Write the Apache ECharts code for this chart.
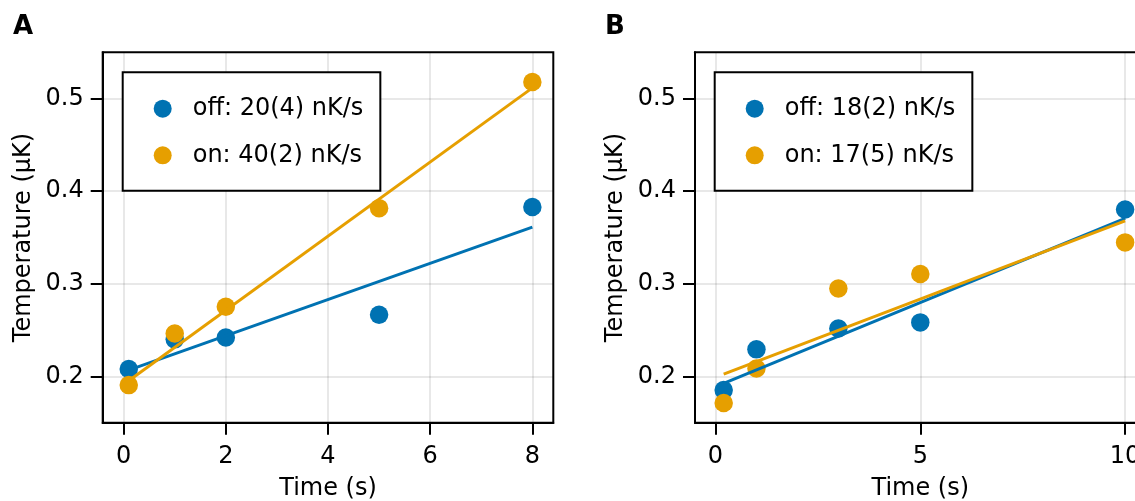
<!DOCTYPE html>
<html>
<head>
<meta charset="utf-8">
<script src="https://cdn.jsdelivr.net/npm/echarts@6/dist/echarts.min.js"></script>
<style>
  html, body { margin: 0; padding: 0; background: #fff; overflow: hidden; }
  #chart { width: 1135px; height: 501px; }
</style>
</head>
<body>
<div id="chart"></div>
<script>
// Panel A: heating with the beam off / on
const timesA = [0.1, 1, 2, 5, 8];
const offA = [0.208, 0.240, 0.242, 0.2665, 0.383];
const onA = [0.1906, 0.2464, 0.2752, 0.3817, 0.518];
const fitTimesA = [0.1, 8];
const fitOffA = [0.2068, 0.3612];
const fitOnA = [0.1953, 0.5116];
const namesA = ['off: 20(4) nK/s', 'on: 40(2) nK/s'];
const xTicksA = [0, 2, 4, 6, 8];

// Panel B
const timesB = [0.2, 1, 3, 5, 10];
const offB = [0.1852, 0.2292, 0.2518, 0.2583, 0.3803];
const onB = [0.1712, 0.2086, 0.295, 0.3105, 0.3447];
const fitTimesB = [0.2, 10];
const fitOffB = [0.1924, 0.3706];
const fitOnB = [0.2025, 0.368];
const namesB = ['off: 18(2) nK/s', 'on: 17(5) nK/s'];
const xTicksB = [0, 5, 10];

const yTicks = [0.2, 0.3, 0.4, 0.5];
const panelLabels = ['A', 'B'];

const BLUE = '#0072B2';
const ORANGE = '#E69F00';
const FONT = 'DejaVu Sans';

const pairs = (xs, ys) => xs.map((x, i) => [x, ys[i]]);

// both panels share the same size; the second one runs past the right edge of the page
const gridBox = { top: 52.3, height: 370.4, width: 450.6 };
const gridLefts = [102.7, 695];

function xAxisFor(gi, min, max, ticks) {
  return {
    type: 'value', gridIndex: gi, min: min, max: max,
    name: 'Time (s)', nameLocation: 'middle', nameGap: 54,
    nameTextStyle: { fontSize: 24, fontFamily: FONT, color: '#000' },
    axisLine: { show: true, onZero: false, lineStyle: { color: '#000', width: 2 } },
    axisTick: { show: true, length: 12, lineStyle: { color: '#000', width: 2 }, customValues: ticks },
    axisLabel: { fontSize: 24, fontFamily: FONT, color: '#000', margin: 22, customValues: ticks },
    splitLine: { show: true, lineStyle: { color: 'rgba(0,0,0,0.12)', width: 1.5 } }
  };
}
function yAxisFor(gi) {
  return {
    type: 'value', gridIndex: gi, min: 0.15, max: 0.55,
    name: 'Temperature (µK)', nameLocation: 'middle', nameGap: 67, nameRotate: 90,
    nameTextStyle: { fontSize: 24, fontFamily: FONT, color: '#000' },
    axisLine: { show: true, onZero: false, lineStyle: { color: '#000', width: 2 } },
    axisTick: { show: true, length: 12, lineStyle: { color: '#000', width: 2 }, customValues: yTicks },
    axisLabel: { fontSize: 24, fontFamily: FONT, color: '#000', margin: 19, customValues: yTicks,
      formatter: v => v.toFixed(1) },
    splitLine: { show: true, lineStyle: { color: 'rgba(0,0,0,0.12)', width: 1.5 } }
  };
}
function legendFor(left, names) {
  return {
    left: left, top: 72.3, orient: 'vertical', icon: 'circle',
    itemWidth: 18, itemHeight: 18, itemGap: 22.6,
    padding: [24.4, 17, 23.4, 31],
    borderColor: '#000', borderWidth: 2, backgroundColor: '#fff',
    textStyle: { fontSize: 24, fontFamily: FONT, color: '#000', lineHeight: 24, padding: [0, 0, 0, 16] },
    data: names, selectedMode: false
  };
}
function scatter(gi, name, color, xs, ys) {
  return {
    type: 'scatter', name: name, xAxisIndex: gi, yAxisIndex: gi,
    data: pairs(xs, ys), symbolSize: 18.5, itemStyle: { color: color, opacity: 1 }, z: 2
  };
}
function fitLine(gi, color, xs, ys) {
  return {
    type: 'line', xAxisIndex: gi, yAxisIndex: gi, data: pairs(xs, ys),
    showSymbol: false, symbol: 'none', lineStyle: { color: color, width: 3 }, z: 3,
    silent: true
  };
}

const chart = echarts.init(document.getElementById('chart'), null, { renderer: 'canvas' });
chart.setOption({
  animation: false,
  backgroundColor: '#fff',
  title: panelLabels.map((t, i) => ({
    text: t, left: i === 0 ? 8 : 600, top: 9,
    textStyle: { fontSize: 26, fontWeight: 'bold', fontFamily: FONT, color: '#000' }
  })),
  grid: gridLefts.map(l => ({
    left: l, top: gridBox.top, width: gridBox.width, height: gridBox.height,
    outerBoundsMode: 'none', containLabel: false,
    show: true, borderColor: '#000', borderWidth: 2, backgroundColor: 'transparent'
  })),
  legend: [legendFor(122.7, namesA), legendFor(714.7, namesB)],
  xAxis: [xAxisFor(0, -0.41, 8.41, xTicksA), xAxisFor(1, -0.5, 10.5, xTicksB)],
  yAxis: [yAxisFor(0), yAxisFor(1)],
  series: [
    scatter(0, namesA[0], BLUE, timesA, offA),
    scatter(0, namesA[1], ORANGE, timesA, onA),
    fitLine(0, BLUE, fitTimesA, fitOffA),
    fitLine(0, ORANGE, fitTimesA, fitOnA),
    scatter(1, namesB[0], BLUE, timesB, offB),
    scatter(1, namesB[1], ORANGE, timesB, onB),
    fitLine(1, BLUE, fitTimesB, fitOffB),
    fitLine(1, ORANGE, fitTimesB, fitOnB)
  ]
});
</script>
</body>
</html>
